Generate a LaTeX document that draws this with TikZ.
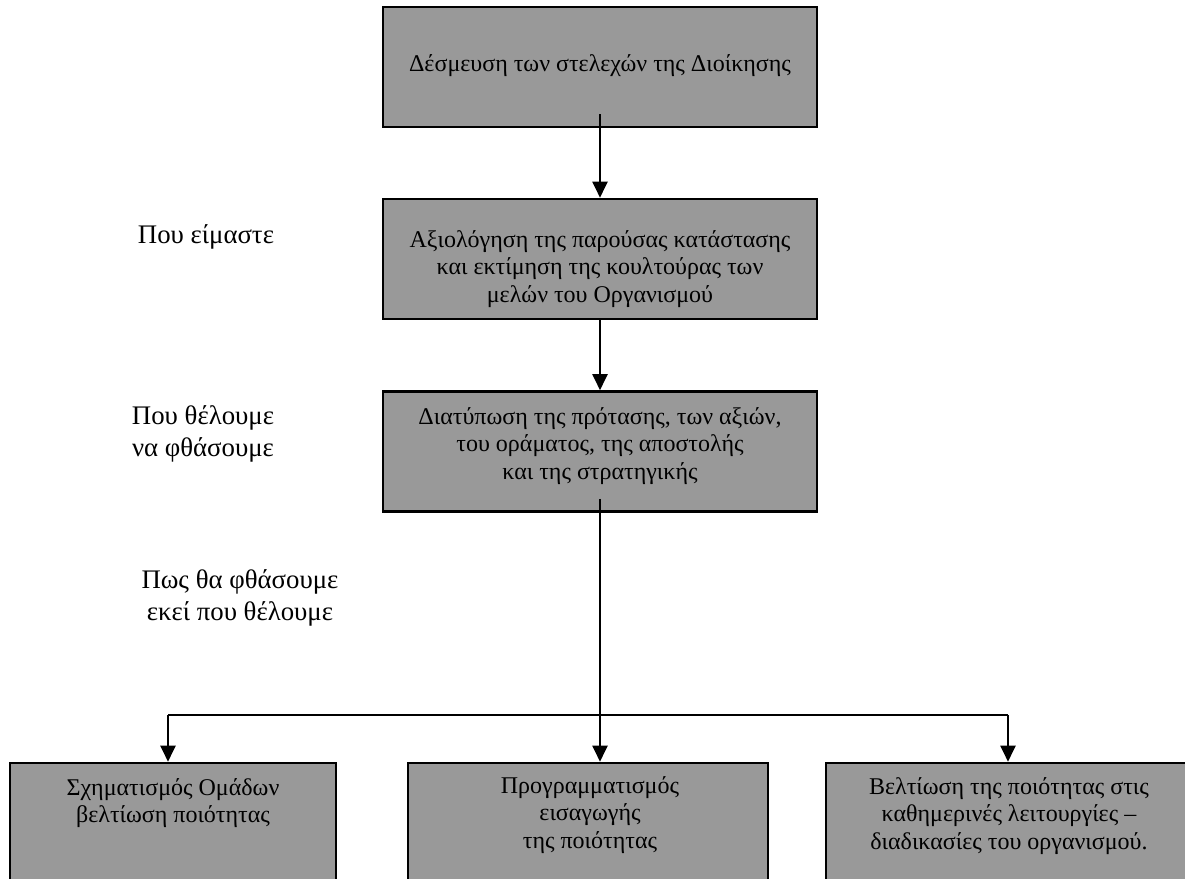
\documentclass[tikz,border=0pt]{standalone}
\usepackage{fontspec}
\setmainfont{Liberation Serif}
\usetikzlibrary{arrows.meta}
\definecolor{boxgray}{RGB}{153,153,153}
\begin{document}
\begin{tikzpicture}[x=0.5pt,y=-0.5pt,
  stage/.style={draw=black, line width=1.3pt, fill=boxgray, inner sep=0pt,
    minimum width=217pt, minimum height=60pt},
  leaf/.style={draw=black, line width=1.3pt, fill=boxgray, inner sep=0pt,
    minimum height=68.5pt},
  boxtext/.style={align=center, inner sep=0pt,
    font=\fontsize{12}{13.8}\selectfont},
  sidetext/.style={align=center, inner sep=0pt,
    font=\fontsize{13.4}{16.2}\selectfont},
  link/.style={line width=1pt},
  flow/.style={line width=1pt, -{Triangle[width=7.5pt,length=8pt]}}
]
\useasboundingbox (0,0) rectangle (1185,879);

% main chain of stages
\node[stage] (commit) at (600,67) {};
\node[boxtext] (commit-t) at (600,65.5) {Δέσμευση των στελεχών της Διοίκησης};

\node[stage] (assess) at (600,259) {};
\node[boxtext] (assess-t) at (600,269) {Αξιολόγηση της παρούσας κατάστασης\\και εκτίμηση της κουλτούρας των\\μελών του Οργανισμού};

\node[stage] (vision) at (600,451.5) {};
\node[boxtext] (vision-t) at (600,446) {Διατύπωση της πρότασης, των αξιών,\\του οράματος, της αποστολής\\και της στρατηγικής};

% three parallel actions (cut off at the bottom)
\node[leaf, minimum width=163pt] (teams) at (173,831.5) {};
\node[boxtext] (teams-t) at (173,803) {Σχηματισμός Ομάδων\\βελτίωση ποιότητας};

\node[leaf, minimum width=180pt] (plan) at (588,831.5) {};
\node[boxtext] (plan-t) at (590,815) {Προγραμματισμός\\εισαγωγής\\της ποιότητας};

\node[leaf, minimum width=183pt] (daily) at (1009,831.5) {};
\node[boxtext] (daily-t) at (1009,816) {Βελτίωση της ποιότητας στις\\καθημερινές λειτουργίες –\\διαδικασίες του οργανισμού.};

% questions on the left
\node[sidetext] (where) at (206,237) {Που είμαστε};
\node[sidetext] (goal) at (203,434) {Που θέλουμε\\να φθάσουμε};
\node[sidetext] (how) at (240,598) {Πως θα φθάσουμε\\εκεί που θέλουμε};

% connectors
\coordinate (c1) at ([yshift=7pt]commit.south);
\draw[flow] (c1) -- (assess.north);
\draw[flow] (assess.south) -- (vision.north);
\coordinate (c3) at ([yshift=7pt]vision.south);
\coordinate (split) at (600,715);
\coordinate (splitL) at (168,715);
\coordinate (splitR) at (1008,715);
\draw[link] (c3) -- (split);
\draw[link] (splitL) -- (splitR);
\draw[flow] (split) -- (split |- plan.north);
\draw[flow] (splitL) -- (splitL |- teams.north);
\draw[flow] (splitR) -- (splitR |- daily.north);
\end{tikzpicture}
\end{document}
